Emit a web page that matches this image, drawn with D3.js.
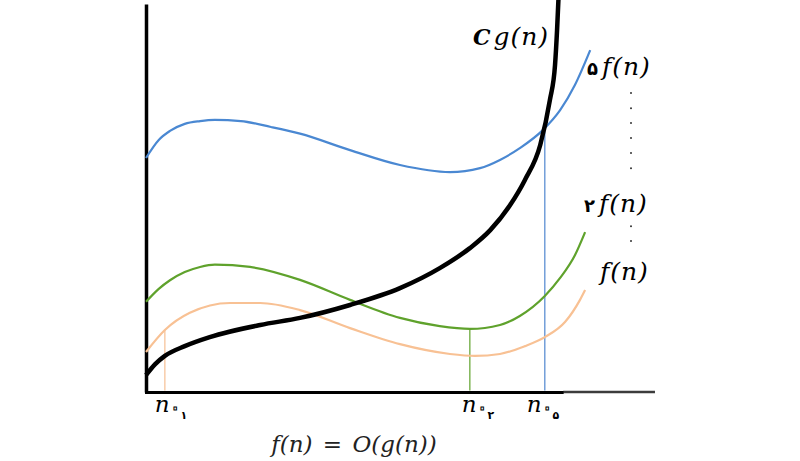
<!DOCTYPE html>
<html>
<head>
<meta charset="utf-8">
<script src="https://cdn.jsdelivr.net/npm/d3@7"></script>
<style>
  body { margin: 0; background: #fff; }
</style>
</head>
<body>
<div id="chart"></div>
<script>
// curves, x and y on a 0-100 scale
var gX = [0, 1.8, 3.7, 7.6, 12.5, 22.4, 30.2, 40, 49.8, 57.6, 63.5, 67.5, 71.4, 74.3, 77.3, 79.2, 80.2, 80.6, 80.9];
var gY = [4.3, 7.1, 9.2, 11.7, 14, 17.1, 18.9, 22.2, 26.5, 31.6, 36.7, 41.3, 47.7, 54.1, 63, 74.5, 83.4, 92.3, 101];

var f5X = [0, 2.5, 4.7, 7.6, 10.6, 13.5, 18.6, 24.5, 30.2, 40, 49.8, 59.6, 65.5, 69.4, 73.3, 77.8, 81.2, 84.1, 87.1];
var f5Y = [59.7, 64.3, 66.6, 68.4, 69.1, 69.4, 69.1, 67.6, 65.9, 61.7, 57.9, 56.1, 57.1, 59.2, 62.2, 66.8, 71.9, 78.3, 87.2];

var f2X = [0, 2.5, 4.7, 7.6, 10.6, 13.5, 20.4, 30.2, 40, 49.8, 57.6, 63.5, 69.4, 73.3, 78.2, 81.2, 84.1, 86.1];
var f2Y = [23, 26.3, 28.5, 30.6, 31.9, 32.5, 31.9, 28.6, 23.5, 18.9, 16.8, 16.1, 17.1, 19.4, 24.5, 29.1, 34.9, 40.8];

var f1X = [0, 3.7, 8.6, 16.5, 22.4, 30.2, 40, 49.8, 59.6, 64.5, 69.4, 74.3, 78.2, 82.2, 85.1, 86.1];
var f1Y = [10.2, 15.8, 20.2, 22.7, 22.7, 20.9, 16.3, 12.2, 9.7, 9.2, 9.7, 11.7, 14, 17.9, 23.5, 26];

// n0 markers: where each line stands and how high it goes
var n0X = [3.7, 63.5, 78.2];
var n0Top = [15.8, 16.1, 66.6];
var n0Sub = ["\u06F1", "\u06F2", "\u06F5"];

// dots between the labels
var dotX = 95.1;
var dotY = [76.3, 72.4, 68.6, 64.8, 61, 57.1, 42.3, 38.5];

var axisBlackEnd = 81.8, axisEnd = 99.8, yAxisTop = 99;

var serif = '"DejaVu Serif", serif';
var faFont = '"DejaVu Sans", sans-serif';

var width = 800, height = 461;

var svg = d3.select("#chart")
  .append("svg")
  .attr("width", width)
  .attr("height", height);

var x = d3.scaleLinear().domain([0, 100]).range([146, 656]);
var y = d3.scaleLinear().domain([0, 100]).range([392, 0]);

// axes, no ticks
var yAxScale = y.copy().domain([0, yAxisTop]).range([y(0), y(yAxisTop)]);
svg.append("g")
  .attr("class", "yaxis")
  .attr("transform", "translate(" + x(0) + ",0)")
  .call(d3.axisLeft(yAxScale).tickValues([]).tickSizeOuter(0));

svg.append("line")
  .attr("x1", x(axisBlackEnd)).attr("x2", x(axisEnd))
  .attr("y1", y(0)).attr("y2", y(0))
  .attr("stroke", "#3c3c3c")
  .attr("stroke-width", 2.6);

var xAxScale = x.copy().domain([0, axisBlackEnd]).range([x(0) - 1.5, x(axisBlackEnd)]);
svg.append("g")
  .attr("class", "xaxis")
  .attr("transform", "translate(0," + y(0) + ")")
  .call(d3.axisBottom(xAxScale).tickValues([]).tickSizeOuter(0));

svg.selectAll(".yaxis path").attr("stroke", "#000").attr("stroke-width", 3.5);
svg.selectAll(".xaxis path").attr("stroke", "#000").attr("stroke-width", 3);

// vertical n0 lines
var n0Colors = ["#f6bf93", "#5fa22c", "#4f86cf"];
svg.selectAll(".n0line")
  .data(n0X)
  .enter()
  .append("line")
  .attr("class", "n0line")
  .attr("x1", function(d) { return x(d); })
  .attr("x2", function(d) { return x(d); })
  .attr("y1", y(0) - 1.5)
  .attr("y2", function(d, i) { return y(n0Top[i]); })
  .attr("stroke", function(d, i) { return n0Colors[i]; })
  .attr("stroke-width", 1.2);

var line = d3.line()
  .x(function(d) { return x(d[0]); })
  .y(function(d) { return y(d[1]); })
  .curve(d3.curveMonotoneX);

function drawCurve(xs, ys, color, w) {
  svg.append("path")
    .datum(d3.zip(xs, ys))
    .attr("d", line)
    .attr("fill", "none")
    .attr("stroke", color)
    .attr("stroke-width", w);
}

drawCurve(f1X, f1Y, "#f8c194", 2.2);
drawCurve(f2X, f2Y, "#5fa22c", 2.2);
drawCurve(f5X, f5Y, "#4a88d2", 2.2);
drawCurve(gX, gY, "#000", 4.5);

// dots
svg.selectAll(".dot")
  .data(dotY)
  .enter()
  .append("circle")
  .attr("cx", x(dotX))
  .attr("cy", function(d) { return y(d); })
  .attr("r", 1)
  .attr("fill", "#333");

// curve labels
var cg = svg.append("text").attr("x", 473).attr("y", 45)
  .style("font-family", serif).style("font-style", "italic").style("font-size", "25px");
cg.append("tspan").style("font-weight", "bold").style("font-size", "22px").text("C");
cg.append("tspan").attr("dx", 3).attr("letter-spacing", 1).text("g(n)");

function fLabel(px, py, digit) {
  var t = svg.append("text").attr("x", px).attr("y", py)
    .style("font-family", serif).style("font-style", "italic").style("font-size", "25px");
  if (digit) {
    t.append("tspan")
      .style("font-family", faFont).style("font-style", "normal").style("font-weight", "bold")
      .style("font-size", "18px").text(digit);
  }
  t.append("tspan").attr("dx", digit ? 4 : 0).attr("letter-spacing", 1).text("f(n)");
}
fLabel(587, 75, "\u06F5");
fLabel(584, 212, "\u06F2");
fLabel(600, 280, null);

// n0 labels under the axis
var n0LabelDx = [-10, -8, -18];
n0X.forEach(function(d, i) {
  var t = svg.append("text")
    .attr("x", x(d) + n0LabelDx[i])
    .attr("y", 412)
    .style("font-family", serif).style("font-style", "italic").style("font-size", "23px");
  t.append("tspan").text("n");
  t.append("tspan")
    .style("font-family", faFont).style("font-style", "normal")
    .style("font-size", "24px").attr("fill", "#fff").attr("stroke", "#000").attr("stroke-width", 1)
    .attr("dx", -1).attr("dy", 3).text("\u06F0");
  t.append("tspan")
    .style("font-family", faFont).style("font-style", "normal").style("font-weight", "bold")
    .style("font-size", "11px").attr("dx", -1).attr("dy", 4).text(n0Sub[i]);
});

// caption
svg.append("text")
  .attr("x", 354)
  .attr("y", 452)
  .attr("text-anchor", "middle")
  .style("font-family", serif).style("font-style", "italic").style("font-size", "23px")
  .attr("fill", "#222")
  .attr("word-spacing", 3)
  .text("f(n) = O(g(n))");
</script>
</body>
</html>
